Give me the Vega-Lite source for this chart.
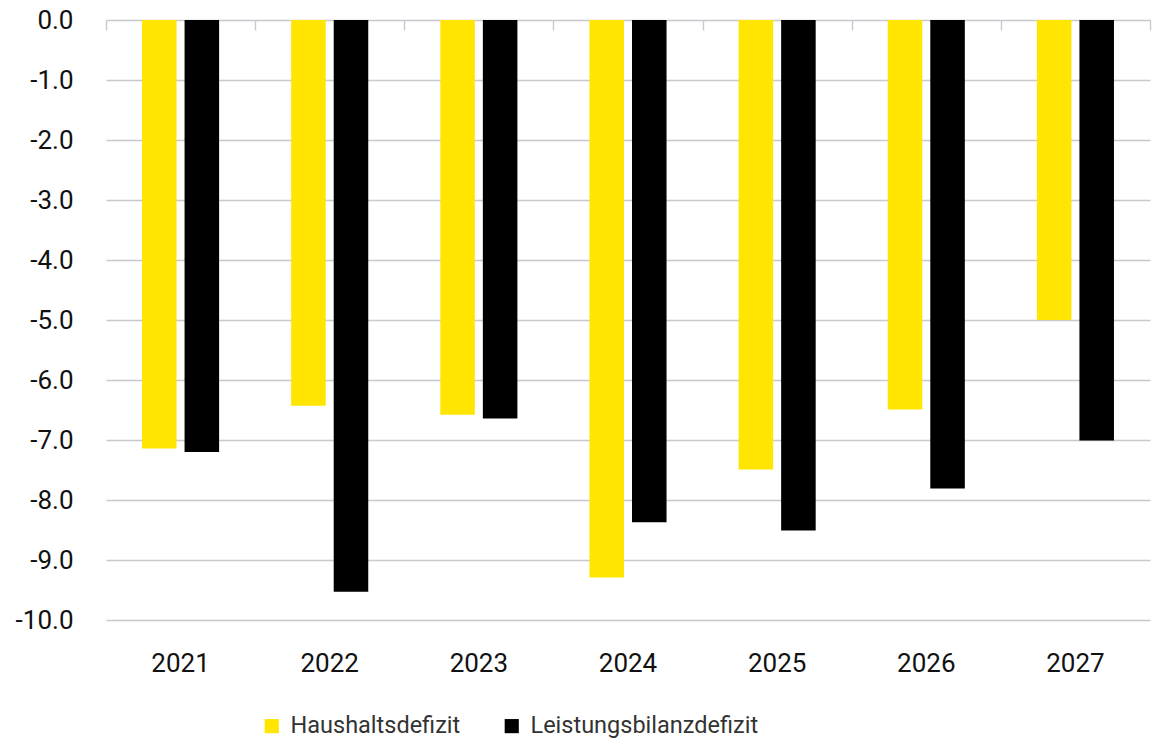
{
  "$schema": "https://vega.github.io/schema/vega-lite/v6.json",
  "width": 1044,
  "height": 600,
  "autosize": {"type": "none"},
  "padding": {"left": 106, "top": 20, "right": 2, "bottom": 124},
  "background": "white",
  "config": {"view": {"stroke": null}, "font": "Roboto"},
  "data": {
    "values": [
      {"year": "2021", "series": "Haushaltsdefizit", "value": -7.14},
      {"year": "2021", "series": "Leistungsbilanzdefizit", "value": -7.2},
      {"year": "2022", "series": "Haushaltsdefizit", "value": -6.43},
      {"year": "2022", "series": "Leistungsbilanzdefizit", "value": -9.53},
      {"year": "2023", "series": "Haushaltsdefizit", "value": -6.58},
      {"year": "2023", "series": "Leistungsbilanzdefizit", "value": -6.64},
      {"year": "2024", "series": "Haushaltsdefizit", "value": -9.29},
      {"year": "2024", "series": "Leistungsbilanzdefizit", "value": -8.37},
      {"year": "2025", "series": "Haushaltsdefizit", "value": -7.49},
      {"year": "2025", "series": "Leistungsbilanzdefizit", "value": -8.51},
      {"year": "2026", "series": "Haushaltsdefizit", "value": -6.49},
      {"year": "2026", "series": "Leistungsbilanzdefizit", "value": -7.81},
      {"year": "2027", "series": "Haushaltsdefizit", "value": -5.0},
      {"year": "2027", "series": "Leistungsbilanzdefizit", "value": -7.01}
    ]
  },
  "layer": [
    {
      "mark": {"type": "bar"},
      "encoding": {
        "x": {
          "field": "year",
          "type": "nominal",
          "scale": {"paddingInner": 0, "paddingOuter": 0},
          "axis": {
            "orient": "bottom",
            "title": null,
            "domain": false,
            "ticks": false,
            "labelAngle": 0,
            "labelFontSize": 26,
            "labelPadding": 30,
            "labelBaseline": "top",
            "labelColor": "#111111"
          }
        },
        "xOffset": {
          "field": "series",
          "type": "nominal",
          "scale": {
            "domain": ["Haushaltsdefizit", "Leistungsbilanzdefizit"],
            "paddingInner": 0.188,
            "paddingOuter": 0.847
          }
        },
        "y": {
          "field": "value",
          "type": "quantitative",
          "scale": {"domain": [-10, 0], "nice": false, "zero": false},
          "axis": {
            "title": null,
            "values": [-10, -9, -8, -7, -6, -5, -4, -3, -2, -1, 0],
            "labelExpr": "replace(format(datum.value, '.1f'), '\u2212', '-')",
            "grid": true,
            "gridColor": "#C8C8CE",
            "gridWidth": 1.4,
            "domain": false,
            "ticks": false,
            "labelFontSize": 26,
            "labelPadding": 33,
            "labelColor": "#111111"
          }
        },
        "color": {
          "field": "series",
          "type": "nominal",
          "scale": {
            "domain": ["Haushaltsdefizit", "Leistungsbilanzdefizit"],
            "range": ["#FFE500", "#000000"]
          },
          "legend": {
            "title": null,
            "orient": "none",
            "direction": "horizontal",
            "legendX": 154,
            "legendY": 694,
            "symbolType": "square",
            "symbolSize": 200,
            "symbolStrokeWidth": 0,
            "labelFontSize": 23.5,
            "labelLimit": 500,
            "labelColor": "#333333",
            "labelOffset": 7,
            "columnPadding": 39
          }
        }
      }
    },
    {
      "mark": {"type": "rule", "opacity": 0},
      "encoding": {
        "x": {
          "field": "year",
          "type": "nominal",
          "axis": {
            "orient": "top",
            "title": null,
            "labels": false,
            "domain": false,
            "ticks": true,
            "tickBand": "extent",
            "tickSize": -10,
            "tickColor": "#C8C8CE",
            "tickWidth": 1.4
          }
        }
      }
    }
  ]
}
